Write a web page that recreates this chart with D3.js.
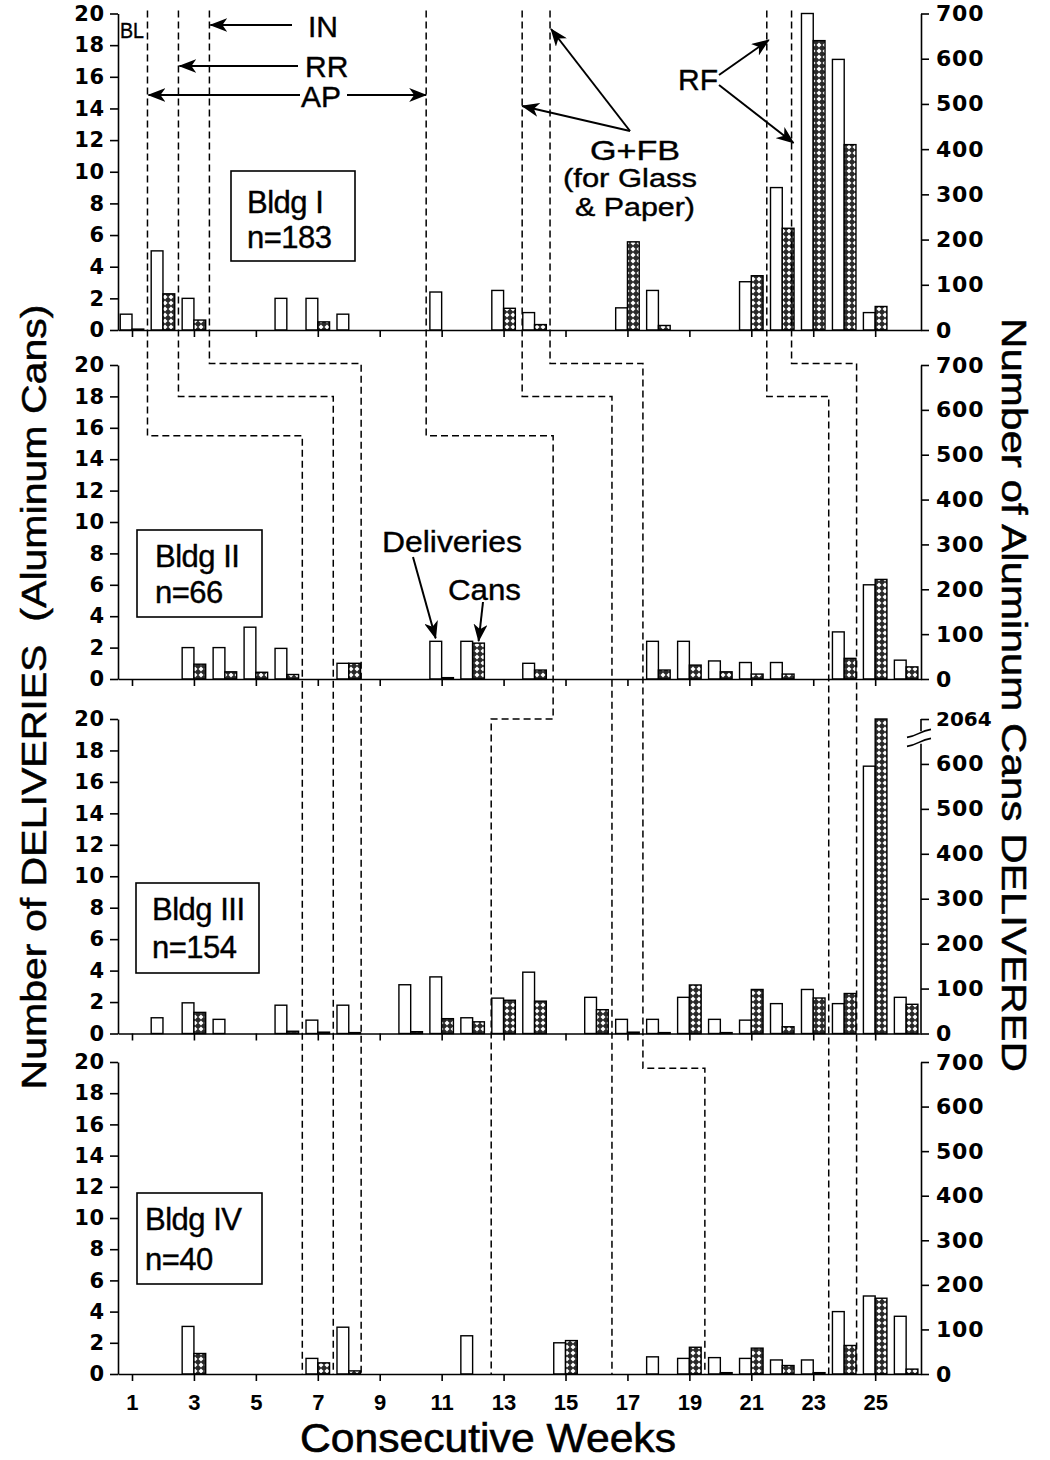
<!DOCTYPE html>
<html lang="en">
<head>
<meta charset="UTF-8">
<title>Deliveries and aluminum cans by building</title>
<style>
  body { margin: 0; background: #fff; }
  svg text { fill: #000; }
  .tick line, .domain { stroke: #000; stroke-width: 1.6px; }
  .tick text { font-family: "DejaVu Sans", sans-serif; font-weight: bold; font-size: 21px; }
  .phase { fill: none; stroke: #000; stroke-width: 1.5px; stroke-dasharray: 7,4; }
  .deliv { fill: #fff; stroke: #000; stroke-width: 1.4px; }
  .cans { fill: url(#hatch); stroke: #000; stroke-width: 1.4px; }
  .lbl { font-family: "Liberation Sans", Arial, sans-serif; }
  .arrow { stroke: #000; stroke-width: 2px; fill: none; }
</style>
</head>
<body>
<div id="chart"></div>
<script src="https://cdnjs.cloudflare.com/ajax/libs/d3/7.8.5/d3.min.js"></script>
<script>
    var weeks = d3.range(1, 27);
    var oddWeeks = d3.range(1, 26, 2);

    // weekly numbers of deliveries (white bars) and cans delivered (hatched bars)
    var deliveriesI   = [1, 5, 2, 0, 0, 2, 2, 1, 0, 0, 2.4, 0, 2.5, 1.1, 0, 0, 1.4, 2.5, 0, 0, 3.05, 9, 20, 17.1, 1.1, 0];
    var cansI         = [2, 80, 22, 0, 0, 0, 18, 0, 0, 0, 0, 0, 48, 12, 0, 0, 195, 10, 0, 0, 120, 225, 640, 410, 52, 0];
    var deliveriesII  = [0, 0, 2, 2, 3.3, 1.95, 0, 1, 0, 0, 2.4, 2.4, 0, 1, 0, 0, 0, 2.4, 2.4, 1.15, 1.05, 1.05, 0, 3, 6, 1.2];
    var cansII        = [0, 0, 33, 16, 15, 10, 0, 35, 0, 0, 3, 80, 0, 20, 0, 0, 0, 20, 31, 16, 11, 11, 0, 46, 222, 27];
    var deliveriesIII = [0, 1, 1.95, 0.9, 0, 1.8, 0.85, 1.8, 0, 3.1, 3.6, 1, 2.25, 3.9, 0, 2.3, 0.9, 0.9, 2.3, 0.9, 0.85, 1.9, 2.8, 1.9, 17, 2.3];
    var cansIII       = [0, 0, 47, 0, 0, 5, 3, 2, 0, 4, 33, 26, 74, 72, 0, 53, 3, 2, 108, 2, 98, 15, 79, 89, 2064, 65];
    var deliveriesIV  = [0, 0, 3.05, 0, 0, 0, 1, 3, 0, 0, 0, 2.45, 0, 0, 2, 0, 0, 1.1, 1, 1.05, 1, 0.9, 0.9, 4, 5, 3.7];
    var cansIV        = [0, 0, 46, 0, 0, 0, 25, 7, 0, 0, 0, 0, 0, 0, 75, 0, 0, 0, 60, 3, 58, 19, 3, 64, 170, 11];

    var buildings = ["Bldg I", "Bldg II", "Bldg III", "Bldg IV"];
    var nLabels = ["n=183", "n=66", "n=154", "n=40"];
    var deliveries = [deliveriesI, deliveriesII, deliveriesIII, deliveriesIV];
    var cans = [cansI, cansII, cansIII, cansIV];

    // phase change lines: week position in each building panel
    var phaseWeeks = [
        [1.5, 6.5, 6.5, 6.5],
        [2.5, 7.5, 7.5, 7.5],
        [3.5, 8.4, 8.4, 8.4],
        [10.5, 14.6, 12.6, 12.6],
        [13.6, 16.5, 16.5, 16.5],
        [14.5, 17.5, 17.5, 19.5],
        [21.5, 23.5, 23.5, 23.5],
        [22.3, 24.4, 24.4, 24.4]
    ];
    // level (deliveries units) of the horizontal step in the next panel
    var phaseStepLevels = [
        [15.5, 0, 0], [18, 0, 0], [20.1, 0, 0], [15.5, 20, 0],
        [18, 0, 0], [20.1, 0, 19.6], [18, 0, 0], [20.1, 0, 0]
    ];

    var width = 1050, height = 1460;
    var left = 118, right = 921;
    var tops = [13.5, 365, 719, 1062],
        bottoms = [330, 679, 1033.5, 1374];

    var svg = d3.select("#chart").append("svg")
        .attr("width", width).attr("height", height);

    var defs = svg.append("defs");
    var pat = defs.append("pattern").attr("id", "hatch")
        .attr("patternUnits", "userSpaceOnUse").attr("width", 6).attr("height", 6);
    pat.append("rect").attr("width", 6).attr("height", 6).attr("fill", "#2a2a2a");
    pat.append("path").attr("d", "M3,0.5L5.5,3L3,5.5L0.5,3Z").attr("fill", "#fff");

    defs.append("marker").attr("id", "arr")
        .attr("viewBox", "0 -7 18 14").attr("refX", 17).attr("refY", 0)
        .attr("markerWidth", 18).attr("markerHeight", 14)
        .attr("markerUnits", "userSpaceOnUse").attr("orient", "auto-start-reverse")
        .append("path").attr("d", "M0,-7L18,0L0,7L5,0Z").attr("fill", "#000");

    var x = d3.scaleLinear().domain([0.548, 26.48]).range([left, right]);
    var barW = (x(1) - x(0)) * 0.38;

    var yD = [], yC = [];
    tops.forEach(function (t, i) {
        yD.push(d3.scaleLinear().domain([0, 20]).range([bottoms[i], t]));
        yC.push(d3.scaleLinear().domain([0, 700]).range([bottoms[i], t]));
    });

    function styleTicks(g) {
        g.selectAll(".tick text").attr("letter-spacing", 0.8);
    }

    function drawPanel(i) {
        var g = svg.append("g").attr("class", "panel");
        var yd = yD[i], yc = yC[i], base = bottoms[i];
        var rows = weeks.map(function (w, k) { return {w: w, d: deliveries[i][k], c: cans[i][k]}; });

        // bars
        g.selectAll(".deliv").data(rows.filter(function (r) { return r.d > 0; }))
            .enter().append("rect").attr("class", "deliv")
            .attr("x", function (r) { return x(r.w) - barW; })
            .attr("width", barW)
            .attr("y", function (r) { return yd(r.d); })
            .attr("height", function (r) { return base - yd(r.d); });

        g.selectAll(".cans").data(rows.filter(function (r) { return r.c > 0; }))
            .enter().append("rect").attr("class", "cans")
            .attr("x", function (r) { return x(r.w); })
            .attr("width", barW)
            .attr("y", function (r) { return yc(Math.min(r.c, 700)); })
            .attr("height", function (r) { return base - yc(Math.min(r.c, 700)); });

        // axes
        g.append("g").attr("transform", "translate(" + left + ",0)")
            .call(d3.axisLeft(yd).tickValues(d3.range(0, 21, 2)).tickSize(8).tickPadding(5).tickSizeOuter(0))
            .call(styleTicks);

        var rAxis = d3.axisRight(yc).tickValues(d3.range(0, 701, 100)).tickSize(8).tickPadding(7).tickSizeOuter(0);
        if (i === 2) rAxis.tickFormat(function (d) { return d === 700 ? "2064" : d; });
        var rg = g.append("g").attr("transform", "translate(" + right + ",0)").call(rAxis).call(styleTicks);
        rg.selectAll(".tick text").style("font-size", "22px");

        if (i === 2) {
            // broken right axis for the 2064 value
            rg.select(".domain").remove();
            rg.append("path").attr("class", "domain")
                .attr("d", "M0," + yc(0) + "V" + yc(645));
            rg.append("path").attr("class", "domain")
                .attr("d", "M0," + yc(700) + "V" + yc(673));
            [668, 648].forEach(function (v) {
                var yy = yc(v);
                rg.append("path").attr("fill", "none").attr("stroke", "#000").attr("stroke-width", 1.6)
                    .attr("d", "M-14," + (yy + 4) + "q6,-1 12,-4t12,-4");
            });
            rg.selectAll(".tick text").filter(function (d) { return d === 700; })
                .attr("letter-spacing", 0).style("font-size", "20px");
        }

        var bAxis = d3.axisBottom(x).tickValues(oddWeeks).tickSize(7).tickPadding(13).tickSizeOuter(0);
        if (i < 3) bAxis.tickFormat("");
        var bg = g.append("g").attr("transform", "translate(0," + base + ")").call(bAxis);
        bg.selectAll(".tick text").style("font-family", "'Liberation Sans', Arial, sans-serif")
            .style("font-size", "22px");
    }

    for (var i = 0; i < 4; i++) drawPanel(i);

    // phase change lines
    phaseWeeks.forEach(function (pw, j) {
        var p = d3.path();
        p.moveTo(x(pw[0]), tops[0] - 3);
        for (var k = 0; k < 3; k++) {
            if (pw[k + 1] !== pw[k]) {
                var yy = yD[k + 1](phaseStepLevels[j][k]);
                p.lineTo(x(pw[k]), yy);
                p.lineTo(x(pw[k + 1]), yy);
            }
        }
        p.lineTo(x(pw[3]), bottoms[3]);
        svg.append("path").attr("class", "phase").attr("d", p.toString());
    });

    // building boxes
    var boxes = [[231, 171, 124, 90], [137, 530, 125, 87], [136, 883, 123, 90], [137, 1193, 125, 91]];
    var boxText = [[247, 213, 248], [155, 567, 603], [152, 920, 958], [145, 1230, 1270]];
    boxes.forEach(function (b, i) {
        svg.append("rect").attr("x", b[0]).attr("y", b[1]).attr("width", b[2]).attr("height", b[3])
            .attr("fill", "#fff").attr("stroke", "#000").attr("stroke-width", 1.6);
        svg.append("text").attr("class", "lbl").attr("x", boxText[i][0]).attr("y", boxText[i][1])
            .attr("font-size", 31).attr("letter-spacing", -0.5)
            .attr("stroke", "#000").attr("stroke-width", 0.4).text(buildings[i]);
        svg.append("text").attr("class", "lbl").attr("x", boxText[i][0]).attr("y", boxText[i][2])
            .attr("font-size", 31).attr("letter-spacing", -0.5)
            .attr("stroke", "#000").attr("stroke-width", 0.4).text(nLabels[i]);
    });

    // annotations
    function label(t, xx, yy, size, anchor, len) {
        var el = svg.append("text").attr("class", "lbl").attr("x", xx).attr("y", yy)
            .attr("font-size", size).attr("text-anchor", anchor || "start")
            .attr("stroke", "#000").attr("stroke-width", 0.4).text(t);
        if (len) el.attr("textLength", len).attr("lengthAdjust", "spacingAndGlyphs");
        return el;
    }
    function arrow(x1, y1, x2, y2, both) {
        var l = svg.append("line").attr("class", "arrow")
            .attr("x1", x1).attr("y1", y1).attr("x2", x2).attr("y2", y2)
            .attr("marker-end", "url(#arr)");
        if (both) l.attr("marker-start", "url(#arr)");
    }

    label("BL", 120, 38, 22, "start", 24);
    label("IN", 308, 37, 30);
    arrow(292, 25, x(phaseWeeks[2][0]) + 1, 25);
    label("RR", 305, 77, 30);
    arrow(298, 66, x(phaseWeeks[1][0]) + 1, 66);
    label("AP", 301, 107, 30);
    arrow(300, 95, x(phaseWeeks[0][0]) + 1, 95);
    arrow(347, 95, x(phaseWeeks[3][0]), 95);

    label("G+FB", 635, 160, 28, "middle", 90);
    label("(for Glass", 630, 187, 26, "middle", 134);
    label("& Paper)", 635, 216, 26, "middle", 120);
    arrow(630, 131, x(phaseWeeks[4][0]), 106);
    arrow(630, 131, x(phaseWeeks[5][0]) + 1, 29);

    label("RF", 678, 90, 30, "start", 40);
    arrow(719, 75, x(phaseWeeks[6][0]) + 2, 40);
    arrow(719, 85, x(phaseWeeks[7][0]) + 2, 143);

    label("Deliveries", 382, 552, 30, "start", 140);
    arrow(413, 557, x(11) - 6, yD[1](deliveriesII[10]) - 3);
    label("Cans", 448, 600, 30, "start", 73);
    arrow(483, 602, x(12) + 6, yC[1](cansII[11]) - 2);

    // axis titles
    svg.append("text").attr("class", "lbl")
        .attr("transform", "translate(46,697) rotate(-90)")
        .attr("text-anchor", "middle").attr("font-size", 35)
        .attr("stroke", "#000").attr("stroke-width", 0.5)
        .attr("textLength", 785).attr("lengthAdjust", "spacingAndGlyphs")
        .style("white-space", "pre")
        .text("Number of DELIVERIES  (Aluminum Cans)");

    svg.append("text").attr("class", "lbl")
        .attr("transform", "translate(1002,695) rotate(90)")
        .attr("text-anchor", "middle").attr("font-size", 35)
        .attr("stroke", "#000").attr("stroke-width", 0.5)
        .attr("textLength", 754).attr("lengthAdjust", "spacingAndGlyphs")
        .text("Number of Aluminum Cans DELIVERED");

    svg.append("text").attr("class", "lbl")
        .attr("x", 488).attr("y", 1452)
        .attr("text-anchor", "middle").attr("font-size", 40)
        .attr("stroke", "#000").attr("stroke-width", 0.6)
        .attr("textLength", 376).attr("lengthAdjust", "spacingAndGlyphs")
        .text("Consecutive Weeks");
</script>
</body>
</html>
